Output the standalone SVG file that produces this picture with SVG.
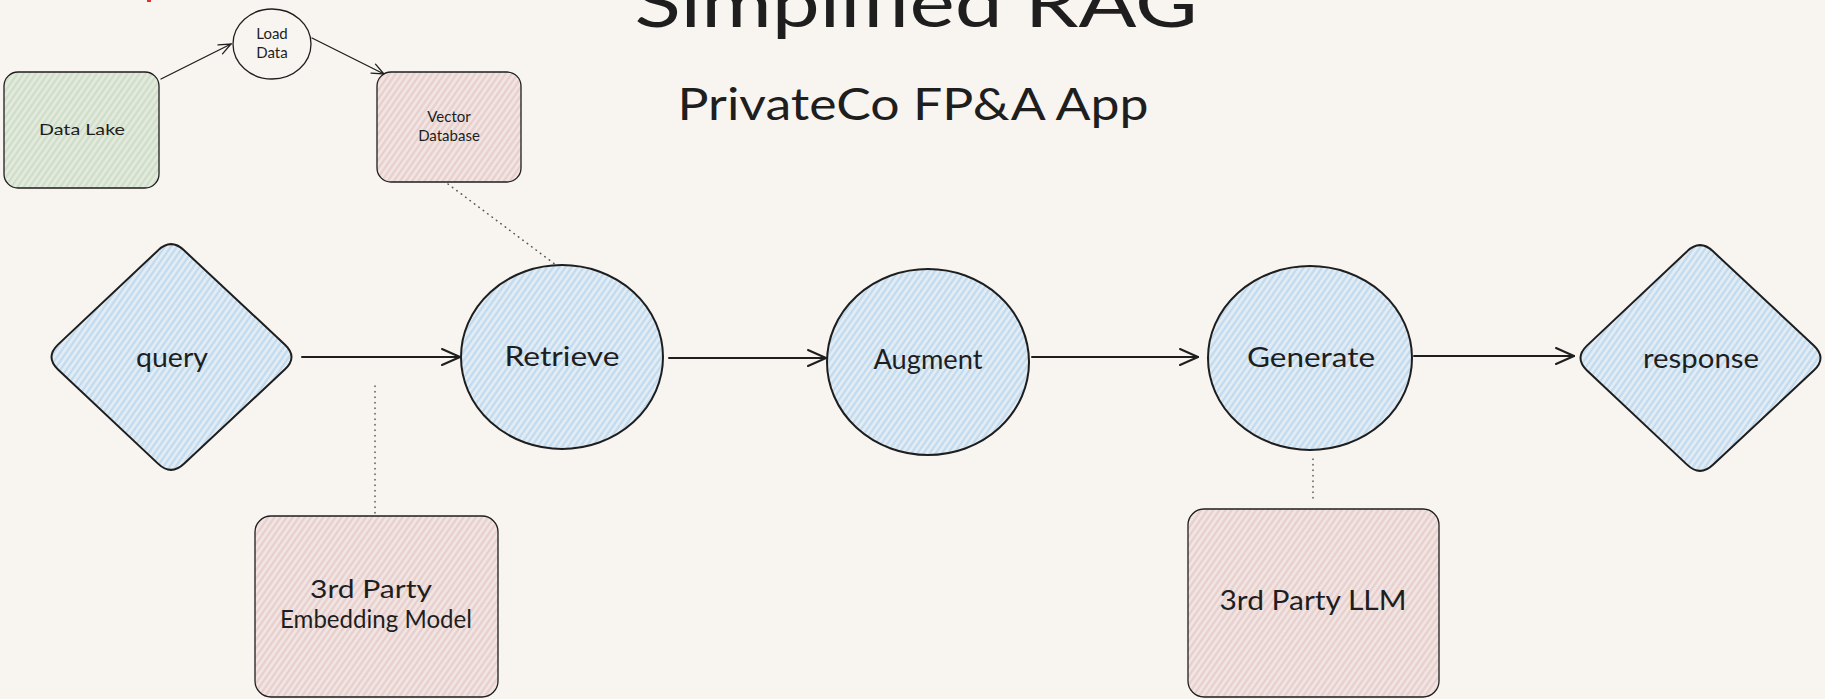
<svg xmlns="http://www.w3.org/2000/svg" width="1825" height="699" viewBox="0 0 1825 699">
<defs>
<style>
.bg{fill:#f8f5f1}
.stk{stroke:#1e1e1e;stroke-width:2;stroke-linejoin:round}
.thin{stroke:#1e1e1e;stroke-width:1.3}
.t{font-family:"Lato","Noto Sans","Liberation Sans",sans-serif;fill:#1e1e1e;text-anchor:middle}
.big{font-size:26px}
.sm{font-size:15px}
.arr{fill:none;stroke:#1e1e1e;stroke-width:2;stroke-linecap:round}
.arrs{fill:none;stroke:#1e1e1e;stroke-width:1.3;stroke-linecap:round}
.dot{fill:none;stroke:#555;stroke-width:1.5;stroke-dasharray:0.5 5;stroke-linecap:round}
</style>
<pattern id="hBlue" width="5" height="5" patternUnits="userSpaceOnUse" patternTransform="rotate(35)">
<rect width="5" height="5" fill="#e6edf2"/>
<line x1="1.5" y1="0" x2="1.5" y2="5" stroke="#b9d8f1" stroke-width="2"/>
</pattern>
<pattern id="hGreen" width="5" height="5" patternUnits="userSpaceOnUse" patternTransform="rotate(35)">
<rect width="5" height="5" fill="#e5eadf"/>
<line x1="1.5" y1="0" x2="1.5" y2="5" stroke="#c9dcc4" stroke-width="2"/>
</pattern>
<pattern id="hRed" width="5" height="5" patternUnits="userSpaceOnUse" patternTransform="rotate(35)">
<rect width="5" height="5" fill="#f1e6e3"/>
<line x1="1.5" y1="0" x2="1.5" y2="5" stroke="#e6cbc9" stroke-width="2"/>
</pattern>
<marker id="ah" viewBox="0 0 20 20" refX="19" refY="10" markerWidth="20" markerHeight="20" markerUnits="userSpaceOnUse" orient="auto">
<path d="M1,2 L19,10 L1,18" fill="none" stroke="#1e1e1e" stroke-width="2" stroke-linecap="round"/>
</marker>
<marker id="ahs" viewBox="0 0 14 14" refX="13" refY="7" markerWidth="14" markerHeight="14" markerUnits="userSpaceOnUse" orient="auto">
<path d="M1,2 L13,7 L1,12" fill="none" stroke="#1e1e1e" stroke-width="1.3" stroke-linecap="round"/>
</marker>
</defs>
<rect class="bg" x="0" y="0" width="1825" height="699"/>
<rect x="147" y="0" width="4" height="2" fill="#e03131"/>

<g id="title">
<text class="t" x="916" y="27" font-size="68" textLength="563" lengthAdjust="spacingAndGlyphs">Simplified RAG</text>
<text class="t" x="913" y="120" font-size="44" textLength="471" lengthAdjust="spacingAndGlyphs">PrivateCo FP&amp;A App</text>
</g>

<g id="connectors">
<line class="arrs" x1="161" y1="79" x2="231" y2="44" marker-end="url(#ahs)"/>
<line class="arrs" x1="312" y1="38" x2="384" y2="74" marker-end="url(#ahs)"/>
<line class="arr" x1="302" y1="357" x2="460" y2="357" marker-end="url(#ah)"/>
<line class="arr" x1="669" y1="358" x2="826" y2="358" marker-end="url(#ah)"/>
<line class="arr" x1="1032" y1="357" x2="1198" y2="357" marker-end="url(#ah)"/>
<line class="arr" x1="1414" y1="356" x2="1574" y2="356" marker-end="url(#ah)"/>
<line class="dot" x1="448" y1="184" x2="556" y2="265"/>
<line class="dot" x1="375" y1="386" x2="375" y2="514"/>
<line class="dot" x1="1313" y1="459" x2="1313" y2="500"/>
</g>

<g id="data-lake">
<rect x="4" y="72" width="155" height="116" rx="14" fill="url(#hGreen)" class="thin"/>
<text class="t" x="82" y="135" font-size="16" textLength="86" lengthAdjust="spacingAndGlyphs">Data Lake</text>
</g>

<g id="load-data">
<ellipse cx="272" cy="44" rx="39" ry="35" fill="none" class="thin"/>
<text class="t sm" x="272" y="39">Load</text>
<text class="t sm" x="272" y="58">Data</text>
</g>

<g id="vector-db">
<rect x="377" y="72" width="144" height="110" rx="14" fill="url(#hRed)" class="thin"/>
<text class="t sm" x="449" y="122">Vector</text>
<text class="t sm" x="449" y="141">Database</text>
</g>

<g id="query">
<path d="M158,250.4 Q171,238 184,250.3 L285,344.7 Q298,357 285,369.3 L184,463.7 Q171,476 158,463.6 L58,369.4 Q45,357 58,344.6 Z" fill="url(#hBlue)" class="stk"/>
<text class="t big" x="172" y="367" textLength="72" lengthAdjust="spacingAndGlyphs">query</text>
</g>

<g id="retrieve">
<ellipse cx="562" cy="357" rx="101" ry="92" fill="url(#hBlue)" class="stk"/>
<text class="t big" x="562" y="366" textLength="115" lengthAdjust="spacingAndGlyphs">Retrieve</text>
</g>

<g id="augment">
<ellipse cx="928" cy="362" rx="101" ry="93" fill="url(#hBlue)" class="stk"/>
<text class="t big" x="928" y="369" textLength="109" lengthAdjust="spacingAndGlyphs">Augment</text>
</g>

<g id="generate">
<ellipse cx="1310" cy="358" rx="102" ry="92" fill="url(#hBlue)" class="stk"/>
<text class="t big" x="1311" y="367" textLength="128" lengthAdjust="spacingAndGlyphs">Generate</text>
</g>

<g id="response">
<path transform="translate(1529,1)" d="M158,250.4 Q171,238 184,250.3 L285,344.7 Q298,357 285,369.3 L184,463.7 Q171,476 158,463.6 L58,369.4 Q45,357 58,344.6 Z" fill="url(#hBlue)" class="stk"/>
<text class="t big" x="1701" y="368" textLength="116" lengthAdjust="spacingAndGlyphs">response</text>
</g>

<g id="embedding-model">
<rect x="255" y="516" width="243" height="181" rx="16" fill="url(#hRed)" class="thin"/>
<text class="t" x="371" y="598" font-size="25" textLength="122" lengthAdjust="spacingAndGlyphs">3rd Party</text>
<text class="t" x="376" y="628" font-size="25" textLength="192" lengthAdjust="spacingAndGlyphs">Embedding Model</text>
</g>

<g id="llm">
<rect x="1188" y="509" width="251" height="188" rx="16" fill="url(#hRed)" class="thin"/>
<text class="t" x="1313" y="610" font-size="26" textLength="187" lengthAdjust="spacingAndGlyphs">3rd Party LLM</text>
</g>
</svg>
